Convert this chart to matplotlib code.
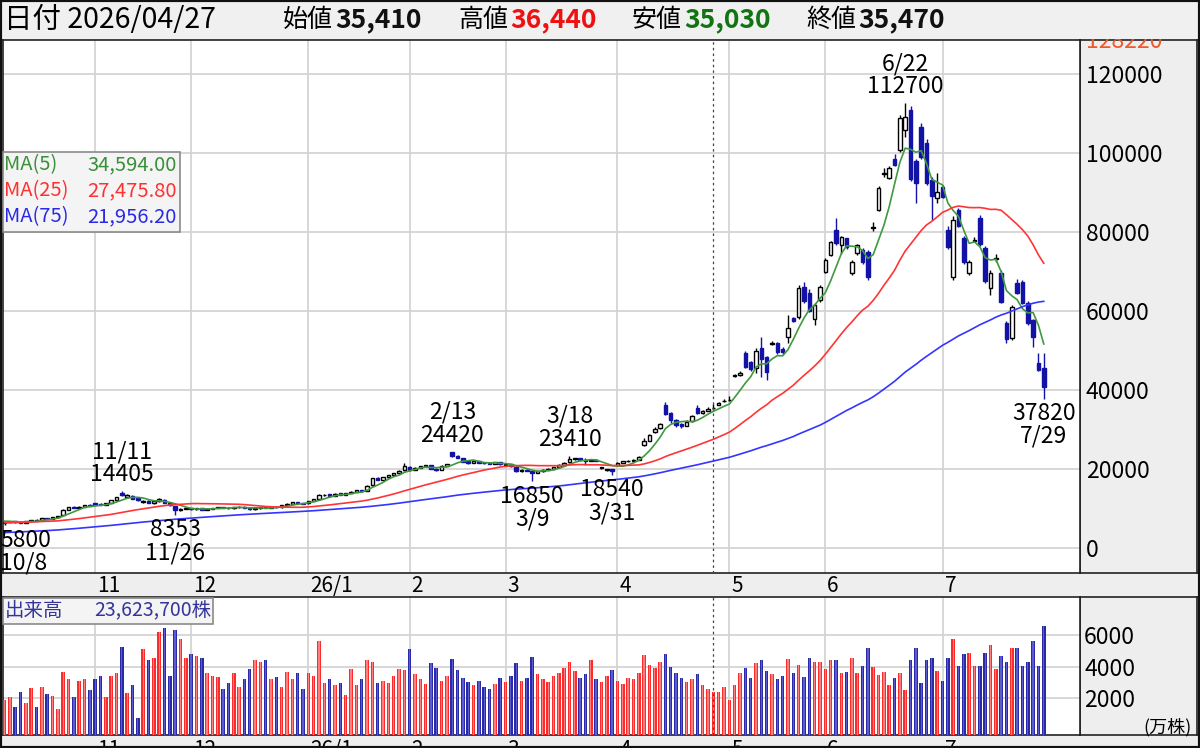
import matplotlib
matplotlib.use("Agg")
import matplotlib.pyplot as plt
from matplotlib.patches import Rectangle
from matplotlib.transforms import blended_transform_factory
import numpy as np
import pandas as pd

plt.rcParams["font.family"] = ["Noto Sans CJK JP", "DejaVu Sans"]

# ------------------------------------------------------------------
# data
# ------------------------------------------------------------------
start_date = "2025-10-08"
end_date = "2026-07-29"
holidays = ["2025-10-13", "2025-11-03", "2025-11-24", "2025-12-31", "2026-01-01",
            "2026-01-02", "2026-01-12", "2026-02-11", "2026-02-23", "2026-03-20",
            "2026-04-29", "2026-05-04", "2026-05-05", "2026-05-06", "2026-07-20"]

opens = [
    6300, 6600, 6800, 6600, 6400, 6800, 7200, 7000, 7600, 7400, 7800, 8400, 9700, 10400, 10100, 10500, 11000,
    11300, 11200, 10900, 11400, 12100, 13800, 13000, 13200, 12600, 11600, 12000, 11300, 11900, 12200, 11400, 10600, 9500, 9900,
    10100, 9800, 10000, 9700, 9900, 10100, 10400, 10200, 10000, 10300, 10500, 10200, 9800, 10000, 10300, 10100, 10500, 10300, 10800, 11200, 11600, 11400,
    11300, 11900, 12500, 13300, 13600, 13200, 13800, 13500, 13900, 14300, 14700, 14500, 15900, 17800, 17300, 17900, 18400, 19000, 19700,
    20600, 19800, 20300, 20700, 20900, 20100, 19800, 20800, 24200, 23300, 22800, 21900, 21500, 21900, 21600, 21500, 21300, 21700,
    21000, 21200, 20600, 19400, 19800, 19500, 19100, 19400, 19800, 20100, 20500, 21100, 21700, 22500, 22700, 22300, 22000, 22400, 20200, 19700, 19900,
    21000, 21600, 21900, 22100, 22400, 26000, 27200, 29300, 30300, 36200, 34200, 32400, 31300, 31000, 32100, 35500, 34200, 34800, 35410, 36200, 37100,
    37400, 43600, 43700, 49400, 47100, 45500, 50600, 48300, 51700, 51900, 50400, 53400, 58200, 58500, 66100, 64500, 58000, 62800,
    69900, 74200, 80500, 76800, 78400, 69600, 74700, 75500, 75000, 81000, 85600, 94700, 93700, 98500, 100800, 105800, 111000, 98000, 106500, 102500, 93200, 88600,
    91400, 80500, 68500, 85600, 78500, 69600, 77800, 83500, 76000, 65800, 73200, 69600, 57000, 53200, 67100, 67300, 62000, 57700, 46800, 45600,
]
highs = [
    6800, 6900, 6900, 6700, 6900, 7200, 7300, 7600, 7700, 7900, 8200, 9800, 10500, 10600, 10600, 11000, 11100,
    11500, 11400, 11500, 12200, 12900, 14405, 13600, 13300, 12700, 12200, 12100, 11900, 12660, 12300, 11500, 10700, 10000, 10300,
    10200, 10100, 10100, 10000, 10200, 10500, 10500, 10300, 10400, 10600, 10600, 10300, 10100, 10400, 10400, 10600, 10600, 10900, 11300, 11700, 11700, 11500,
    12000, 12500, 13600, 13700, 13700, 13800, 13900, 14000, 14400, 14700, 14800, 15900, 17700, 18000, 18000, 18500, 19100, 19700, 21500,
    20700, 20400, 20800, 21100, 21000, 20200, 20900, 21300, 24420, 23500, 22900, 22000, 22000, 22000, 21700, 21600, 21800, 21800,
    21500, 21300, 20700, 19900, 19900, 19600, 19500, 19900, 20200, 20600, 21200, 21700, 23410, 22900, 22800, 22800, 22500, 22500, 20600, 20100, 20000,
    21800, 22000, 22300, 22600, 23200, 27800, 28800, 30600, 31700, 37000, 34400, 32600, 31600, 32300, 33700, 36200, 35000, 35600, 36440, 37000, 37700,
    38600, 44000, 44900, 49800, 47400, 50600, 53400, 48600, 52300, 52100, 50900, 59000, 58600, 66500, 67300, 65500, 62000, 66600,
    73400, 77800, 83500, 79000, 78600, 72800, 77000, 76000, 75500, 82500, 91600, 96300, 96800, 99800, 109500, 112700, 111800, 98500, 107500, 103500, 93800, 95000,
    92000, 81500, 84000, 86000, 79000, 73000, 78800, 84300, 76500, 70400, 74500, 70500, 57500, 61500, 68000, 67800, 62500, 58000, 49400, 49400,
]
lows = [
    5800, 6500, 6400, 6300, 6400, 6700, 6800, 6900, 7300, 7300, 7700, 8300, 9500, 10000, 10000, 10400, 10600,
    10900, 10800, 10800, 11300, 12000, 13200, 12800, 12400, 12000, 11400, 11300, 11200, 11700, 11400, 10700, 8353, 9300, 9800,
    9700, 9700, 9600, 9600, 9800, 10000, 10100, 9900, 9900, 10200, 10100, 9700, 9700, 9900, 10000, 10000, 10200, 10200, 10700, 11100, 11300, 11100,
    11200, 11800, 12400, 13100, 13100, 13100, 13400, 13400, 13800, 14200, 14300, 14400, 15800, 17200, 17200, 17800, 18300, 18900, 19600,
    19600, 19700, 20200, 20600, 20000, 19500, 19700, 20700, 23000, 22700, 21700, 21300, 21400, 21500, 21300, 21200, 21200, 21100,
    21000, 20600, 19300, 19300, 19400, 16850, 19000, 19300, 19700, 20000, 20400, 21000, 21600, 22300, 22200, 21000, 21900, 22000, 20000, 19500, 18540,
    20900, 21400, 21700, 21900, 22300, 25800, 27000, 29000, 30100, 33700, 31600, 30600, 30500, 30800, 32000, 33900, 34000, 34600, 35030, 36100, 36900,
    37200, 43400, 43500, 45500, 44800, 44300, 43300, 42500, 51300, 49200, 49000, 52000, 57100, 58000, 62000, 59800, 56500, 62300,
    69500, 73800, 76800, 74500, 75800, 69000, 74200, 72000, 67800, 80300, 85200, 93800, 93300, 96800, 100300, 104000, 93000, 87300, 98500, 92000, 83000, 87300,
    88500, 75800, 67900, 81200, 72000, 69200, 77400, 76500, 67000, 64000, 72500, 62000, 52000, 52700, 64200, 61700, 56500, 51000, 44800, 37820,
]
closes = [
    6600, 6700, 6500, 6400, 6800, 7100, 6900, 7500, 7400, 7800, 8100, 9600, 10300, 10100, 10500, 10900, 10700,
    11000, 10900, 11400, 12100, 12800, 13400, 13300, 12500, 12100, 12000, 11400, 11800, 12300, 11500, 10800, 9600, 9900, 10100,
    9800, 10000, 9700, 9900, 10100, 10400, 10200, 10000, 10300, 10500, 10200, 9800, 10000, 10300, 10100, 10500, 10300, 10800, 11200, 11600, 11400, 11200,
    11900, 12400, 13300, 13500, 13200, 13700, 13500, 13900, 14300, 14600, 14400, 15800, 17600, 17300, 17900, 18400, 19000, 19600, 20800,
    19800, 20300, 20700, 20900, 20100, 19700, 20800, 21200, 23200, 22900, 21800, 21500, 21900, 21600, 21400, 21300, 21700, 21200,
    21200, 20700, 19400, 19800, 19500, 19100, 19400, 19800, 20100, 20500, 21100, 21600, 22500, 22700, 22300, 22000, 22400, 22100, 20400, 19900, 19600,
    21600, 21900, 22100, 22400, 23000, 27000, 28500, 30200, 31400, 34000, 32300, 31200, 31000, 32000, 33400, 34100, 34700, 35300, 35470, 36600, 37300,
    37500, 43800, 44300, 45800, 45300, 49800, 47800, 44500, 51800, 49600, 49500, 55700, 57500, 65800, 62500, 60000, 61500, 66100,
    72900, 77500, 77200, 78700, 76200, 72400, 76700, 72500, 68500, 81300, 91100, 95000, 96200, 97000, 108900, 109000, 93500, 92500, 99000, 92500, 89000, 90100,
    88900, 76200, 83000, 81500, 72500, 72400, 78000, 77000, 67500, 69600, 73400, 62300, 53000, 61000, 64600, 62000, 57000, 53400, 45000, 40800,
]
# volume in 万株
volumes = [
    1870, 2080, 1410, 2400, 1660, 2620, 1410, 2720, 2250, 2130, 1280, 3670, 3190, 2040, 3100, 3210, 2510,
    3190, 3420, 2040, 3420, 3570, 5220, 2340, 2830, 710, 5110, 4410, 4520, 6210, 6430, 3420, 6320, 5730, 4520,
    4770, 4670, 4520, 3570, 3400, 3360, 2590, 2970, 3570, 2720, 3190, 3820, 4410, 4300, 4410, 3190, 3310, 2720, 3670, 3190, 3570, 2590,
    3570, 3420, 5620, 2970, 3190, 2830, 2970, 2190, 3820, 2830, 3190, 4410, 4300, 2970, 3100, 2970, 3400, 3820, 3800,
    5100, 3500, 3200, 2900, 4200, 3900, 3100, 3400, 4500, 3800, 3300, 3000, 2800, 3100, 2700, 2600, 2900, 3300,
    3000, 3400, 4200, 3100, 3300, 4600, 3500, 3200, 3000, 3400, 3600, 3900, 4300, 3700, 3300, 3500, 4400, 3200, 3000, 3400, 3800,
    3100, 2900, 3300, 3200, 3600, 4700, 4100, 3900, 4300, 4800, 4000, 3600, 3300, 3000, 3200, 3500, 2800, 2600, 2362, 2400, 2700,
    1900, 2800, 3600, 3900, 3300, 4200, 4400, 3700, 3500, 3200, 3400, 4500, 3600, 4100, 3310, 4520, 4300, 4300,
    3820, 4410, 4410, 3570, 3670, 4520, 3570, 4030, 5160, 3950, 3460, 3670, 2830, 3250, 3570, 2510, 4410, 5160, 2970, 4410, 4520, 3715,
    3100, 4520, 5730, 4030, 4790, 4880, 4030, 4030, 4880, 5370, 3820, 4670, 4300, 5160, 5160, 4030, 4300, 5620, 4030, 6570,
]
# closes before the first visible day, needed for the moving averages
prior_closes = [
    1900, 1900, 2000, 1950, 1900, 1950, 2000, 2050, 2000, 1950,
    2000, 2050, 2100, 2050, 2000, 2050, 2100, 2150, 2100, 2050,
    2100, 2150, 2200, 2150, 2200, 2250, 2300, 2250, 2300, 2350,
    2400, 2450, 2500, 2600, 2700, 2800, 2900, 3000, 3100, 3250,
    3400, 3550, 3700, 3850, 4000, 4200, 4400, 4700, 5000, 5200,
    5400, 5500, 5600, 5700, 5800, 5900, 6000, 6100, 6200, 6300,
    6400, 6500, 6500, 6600, 6600, 6700, 6700, 6800, 6800, 6900,
    6900, 7000, 6800, 6700,
]

ma_windows = [5, 25, 75]
ma_cursor_values = [34594.00, 27475.80, 21956.20]

ann_dates = ["2025-10-08", "2025-11-11", "2025-11-26", "2026-02-13", "2026-03-09",
             "2026-03-18", "2026-03-31", "2026-06-22", "2026-07-29"]
ann_values = [5800, 14405, 8353, 24420, 16850, 23410, 18540, 112700, 37820]
ann_kinds = ["low", "high", "low", "high", "low", "high", "low", "high", "low"]

cursor_date = "2026-04-27"
header_names = ["始値", "高値", "安値", "終値"]
header_values = [35410, 36440, 35030, 35470]
cursor_volume_shares = 23623700

price_ticks = [0, 20000, 40000, 60000, 80000, 100000, 120000]
price_top = 128220
volume_ticks = [2000, 4000, 6000]

# ------------------------------------------------------------------
# layout helpers (pixel based)
# ------------------------------------------------------------------
W, H = 1200, 748
BG = "#eeeeee"
FS = 16.5


def box(x0, y0, x1, y1):
    return [x0 / W, 1 - y1 / H, (x1 - x0) / W, (y1 - y0) / H]


def fx(x):
    return x / W


def fy(y):
    return 1 - y / H


dates = pd.bdate_range(start_date, end_date, freq="C", holidays=holidays)
o = np.array(opens, dtype=float)
h = np.array(highs, dtype=float)
l = np.array(lows, dtype=float)
c = np.array(closes, dtype=float)
v = np.array(volumes, dtype=float)
x = np.arange(len(c))
up = c >= o

all_closes = pd.Series(prior_closes + closes, dtype=float)
mas = [all_closes.rolling(w).mean().to_numpy()[len(prior_closes):] for w in ma_windows]

month_idx = [i for i in range(1, len(dates)) if dates[i].month != dates[i - 1].month]
month_lbl = [("26/1" if dates[i].month == 1 else str(dates[i].month)) for i in month_idx]
cursor_i = int(np.where(dates == pd.Timestamp(cursor_date))[0][0])

fig = plt.figure(figsize=(12, 7.48), dpi=100, facecolor=BG)

ax_p = fig.add_axes(box(3, 40, 1080, 573))
ax_v = fig.add_axes(box(3, 597, 1080, 735))
for pos in [(1080, 40, 1197, 573), (1080, 597, 1197, 735)]:
    a = fig.add_axes(box(*pos), zorder=-1)
    a.set_facecolor(BG)
    a.set_xticks([])
    a.set_yticks([])
    for s in a.spines.values():
        s.set_color("#222222")
        s.set_linewidth(1.2)

xlim = (-0.3, 201.8)
up_col, dn_col = "#ffffff", "#1212a6"

# ---------------- price panel ----------------
ax_p.set_xlim(*xlim)
ax_p.set_ylim(-6330, 128600)
ax_p.set_yticks(price_ticks)
ax_p.set_yticklabels([str(t) for t in price_ticks])
ax_p.set_xticks(month_idx)
ax_p.tick_params(axis="x", length=0, labelbottom=False)
ax_p.yaxis.tick_right()
ax_p.tick_params(axis="y", length=0, pad=4.3, labelsize=FS)
ax_p.grid(True, color="#d4d4d4", lw=1.3)
ax_p.set_axisbelow(True)
for s in ax_p.spines.values():
    s.set_color("#222222")
    s.set_linewidth(1.2)

wick_cols = np.where(up, "#000000", dn_col)
ax_p.vlines(x, l, h, colors=wick_cols, lw=1.0, zorder=3)
ax_p.bar(x, np.abs(c - o), bottom=np.minimum(o, c), width=0.66,
         color=np.where(up, up_col, dn_col), edgecolor=wick_cols, lw=1.0, zorder=4)

ma_colors = ["#3f993f", "#ff3535", "#3535ff"]
for m, col in zip(mas, ma_colors):
    ax_p.plot(x, m, color=col, lw=1.2, zorder=5)

ax_p.axvline(cursor_i, color="#444444", lw=0.9, ls=(0, (2, 2.5)), zorder=6)

# high / low annotations
for d, val, kind in zip(ann_dates, ann_values, ann_kinds):
    i = int(np.where(dates == pd.Timestamp(d))[0][0])
    ts = pd.Timestamp(d)
    dlab = f"{ts.month}/{ts.day}"
    ha = "center"
    xi = i
    if i < 3:
        ha, xi = "left", xlim[0] - 0.5
    if kind == "high":
        ax_p.annotate(str(val), (xi, val), xytext=(0, 3.5), textcoords="offset points",
                      ha=ha, va="bottom", fontsize=FS, zorder=8, annotation_clip=False)
        ax_p.annotate(dlab, (xi, val), xytext=(0, 20), textcoords="offset points",
                      ha=ha, va="bottom", fontsize=FS, zorder=8, annotation_clip=False)
    else:
        ax_p.annotate(str(val), (xi, val), xytext=(0, -2.5), textcoords="offset points",
                      ha=ha, va="top", fontsize=FS, zorder=8, annotation_clip=False)
        ax_p.annotate(dlab, (xi, val), xytext=(0, -19), textcoords="offset points",
                      ha=ha, va="top", fontsize=FS, zorder=8, annotation_clip=False)

# top of scale label (partly hidden by the header)
ax_p.annotate(str(price_top), (1, price_top), xycoords=blended_transform_factory(ax_p.transAxes, ax_p.transData),
              xytext=(4.3, 0), textcoords="offset points", ha="left", va="center",
              fontsize=FS, color="#f0582a", annotation_clip=False)

bt = blended_transform_factory(ax_p.transData, ax_p.transAxes)
for i, lab in zip(month_idx, month_lbl):
    ax_p.annotate(lab, (i, 0), xycoords=bt, xytext=(1.5, -9.5), textcoords="offset points",
                  ha="left", va="center", fontsize=FS - 1.5, annotation_clip=False)

# ---------------- volume panel ----------------
vfloor = -350
ax_v.set_xlim(*xlim)
ax_v.set_ylim(vfloor, 8414)
ax_v.set_yticks(volume_ticks)
ax_v.set_yticklabels([str(t) for t in volume_ticks])
ax_v.set_xticks(month_idx)
ax_v.tick_params(axis="x", length=0, labelbottom=False)
ax_v.yaxis.tick_right()
ax_v.tick_params(axis="y", length=0, pad=3, labelsize=FS)
ax_v.grid(True, color="#d4d4d4", lw=1.3)
ax_v.set_axisbelow(True)
for s in ax_v.spines.values():
    s.set_color("#222222")
    s.set_linewidth(1.2)

ax_v.bar(x, v - vfloor, bottom=vfloor, width=0.66,
         color=np.where(up, "#ff2b2b", "#2a2aa8"), lw=0, zorder=3)
ax_v.bar(x, v - vfloor, bottom=vfloor, width=0.24,
         color=np.where(up, "#ff8080", "#5c5cd0"), lw=0, zorder=3.5)
ax_v.axvline(cursor_i, color="#444444", lw=0.9, ls=(0, (2, 2.5)), zorder=6)

# month labels under the volume panel (cut by the bottom edge, as in the source)
bt_v = blended_transform_factory(ax_v.transData, ax_v.transAxes)
for i, lab in zip(month_idx, month_lbl):
    ax_v.annotate(lab, (i, 0), xycoords=bt_v, xytext=(1.5, -10.5), textcoords="offset points",
                  ha="left", va="center", fontsize=FS - 1.5, annotation_clip=False)

fig.text(fx(1192), fy(727), "(万株)", ha="right", va="center", fontsize=13)

# ---------------- legends ----------------
fig.add_artist(Rectangle((fx(3), fy(232)), 177 / W, 80 / H, transform=fig.transFigure,
                         facecolor="#f4f4f4", edgecolor="#8a8a8a", lw=1.2, zorder=10))
leg_cols = ["#3a8f3a", "#ff3030", "#2a2ae6"]
for k, (w, val, col) in enumerate(zip(ma_windows, ma_cursor_values, leg_cols)):
    yy = 165 + 26 * k
    fig.text(fx(4), fy(yy), f"MA({w})", color=col, fontsize=14.5, va="center", zorder=11)
    fig.text(fx(177), fy(yy), f"{val:,.2f}", color=col, fontsize=14.5, va="center",
             ha="right", zorder=11)

fig.add_artist(Rectangle((fx(3), fy(624)), 210 / W, 26 / H, transform=fig.transFigure,
                         facecolor="#f4f4f4", edgecolor="#8a8a8a", lw=1.2, zorder=10))
fig.text(fx(5), fy(611), "出来高", color="#34349a", fontsize=14, va="center", zorder=11)
fig.text(fx(211), fy(611), f"{cursor_volume_shares:,}株", color="#34349a", fontsize=14,
         va="center", ha="right", zorder=11)

# ---------------- header ----------------
fig.add_artist(Rectangle((0, fy(39)), 1, 39 / H, transform=fig.transFigure,
                         facecolor="#f0f0f0", edgecolor="none", zorder=12))
ts = pd.Timestamp(cursor_date)
fig.text(fx(4), fy(20), f"日付 {ts:%Y/%m/%d}", fontsize=20.5, va="center", zorder=13)
hx = [283, 458, 632, 806]
hcol = ["#111111", "#ee1111", "#137313", "#111111"]
for xx, name, val, col in zip(hx, header_names, header_values, hcol):
    fig.text(fx(xx), fy(20), name, fontsize=18, va="center", zorder=13)
    fig.text(fx(xx + 52), fy(20), f"{val:,}", fontsize=19, va="center",
             fontweight="bold", color=col, zorder=13)

fig.add_artist(Rectangle((0, 0), 1, 1, transform=fig.transFigure, fill=False,
                         edgecolor="#111111", lw=3, zorder=20))

fig.savefig("out.png", dpi=100, facecolor=BG)
